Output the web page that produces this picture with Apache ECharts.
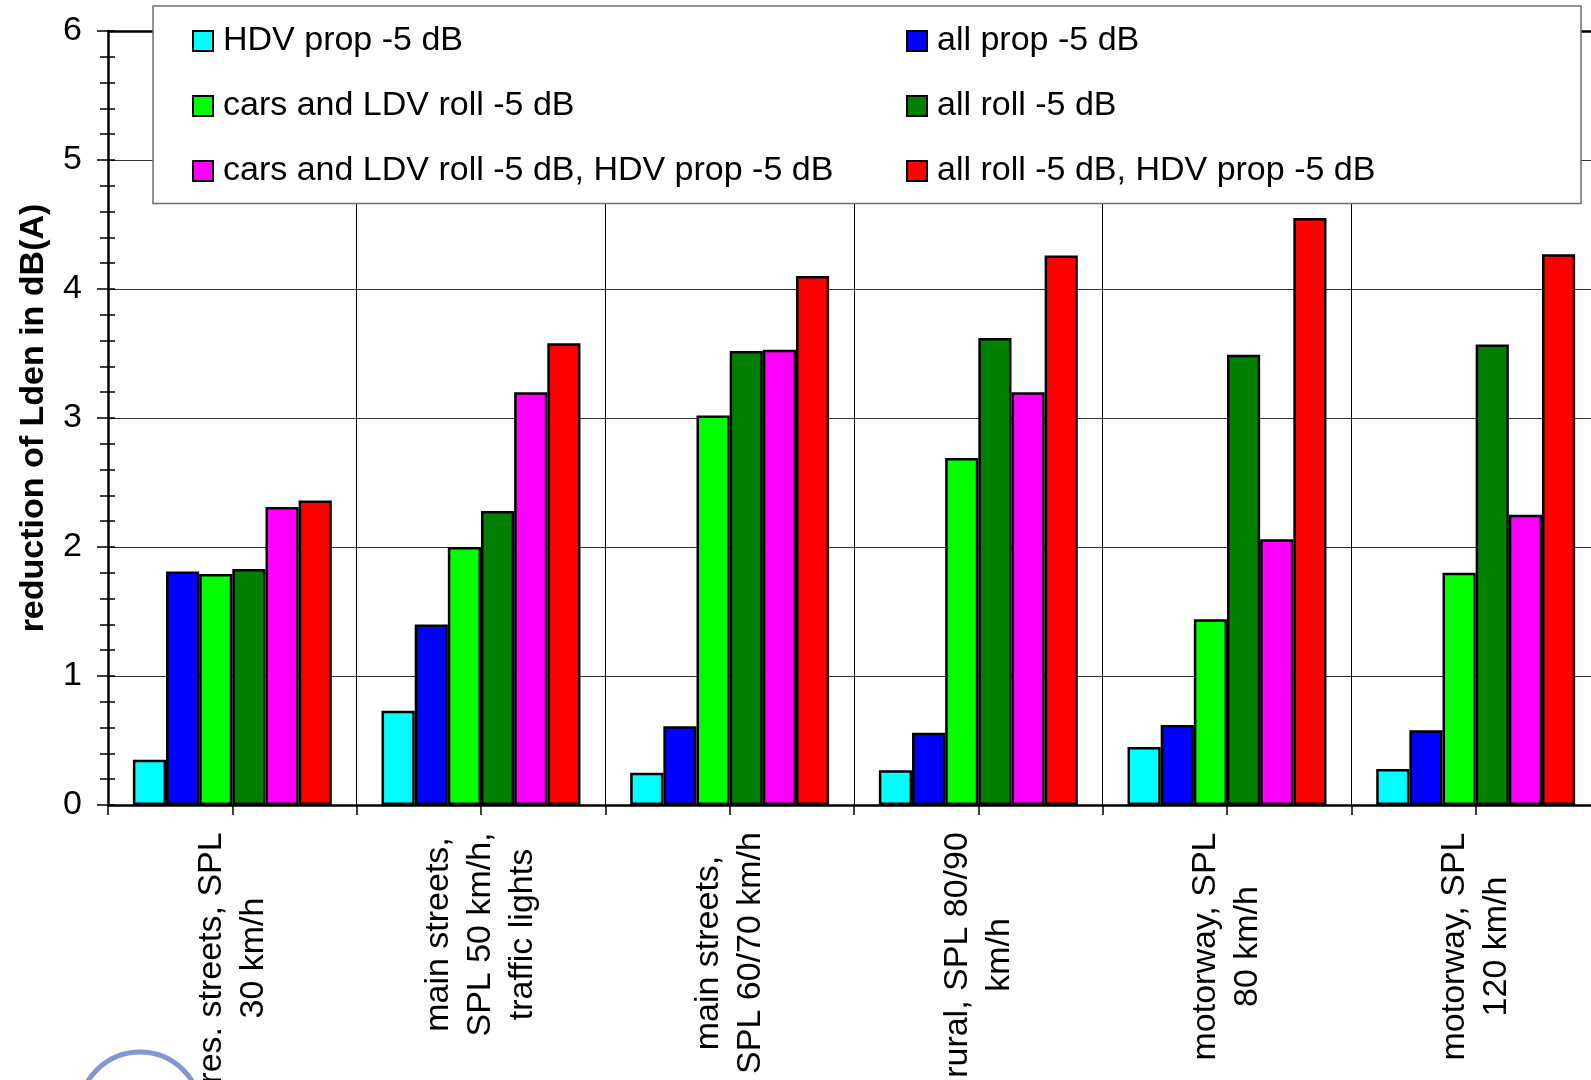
<!DOCTYPE html>
<html>
<head>
<meta charset="utf-8">
<script src="https://cdn.jsdelivr.net/npm/echarts@6/dist/echarts.min.js"></script>
<style>
  html, body { margin: 0; padding: 0; background: #fff; }
  #chart { width: 1591px; height: 1080px; }
</style>
</head>
<body>
<div id="chart"></div>
<script>
// Road categories (x axis)
const categories = [
  'res. streets, SPL\n30 km/h',
  'main streets,\nSPL 50 km/h,\ntraffic lights',
  'main streets,\nSPL 60/70 km/h',
  'rural, SPL 80/90\nkm/h',
  'motorway, SPL\n80 km/h',
  'motorway, SPL\n120 km/h'
];

// Noise reduction scenarios
const seriesNames = [
  'HDV prop -5 dB',
  'all prop -5 dB',
  'cars and LDV roll -5 dB',
  'all roll -5 dB',
  'cars and LDV roll -5 dB, HDV prop -5 dB',
  'all roll -5 dB, HDV prop -5 dB'
];

// Reduction of Lden in dB(A) per category
const hdvProp          = [0.35, 0.73, 0.25, 0.27, 0.45, 0.28];
const allProp          = [1.81, 1.40, 0.61, 0.56, 0.62, 0.58];
const carsRoll         = [1.79, 2.00, 3.02, 2.69, 1.44, 1.80];
const allRoll          = [1.83, 2.28, 3.52, 3.62, 3.49, 3.57];
const carsRollHdvProp  = [2.31, 3.20, 3.53, 3.20, 2.06, 2.25];
const allRollHdvProp   = [2.36, 3.58, 4.10, 4.26, 4.55, 4.27];

const yTicks = [0, 1, 2, 3, 4, 5, 6];

const seriesValues = [hdvProp, allProp, carsRoll, allRoll, carsRollHdvProp, allRollHdvProp];
const colors = ['#00ffff', '#0000ff', '#00ff00', '#008000', '#ff00ff', '#ff0000'];

const FONT = "'Liberation Sans', Arial, Helvetica, sans-serif";
const FS = 34;

// Category labels: lines centred on each other, block ending at the axis.
const measureCtx = document.createElement('canvas').getContext('2d');
measureCtx.font = FS + 'px "Liberation Sans", Arial, sans-serif';
const labelRich = {};
categories.forEach(function (c, i) {
  const w = Math.max.apply(null, c.split('\n').map(function (s) { return measureCtx.measureText(s).width; }));
  labelRich['c' + i] = {
    width: Math.ceil(w) + 2,
    align: 'center',
    fontSize: FS,
    fontFamily: FONT,
    color: '#000',
    lineHeight: 42
  };
});

const chart = echarts.init(document.getElementById('chart'), null, { renderer: 'canvas' });

const legendCommon = {
  orient: 'vertical',
  selectedMode: false,
  itemWidth: 20,
  itemHeight: 20,
  itemGap: 0,
  icon: 'rect',
  itemStyle: { borderColor: '#000', borderWidth: 2 },
  textStyle: {
    fontSize: FS,
    fontFamily: FONT,
    color: '#000',
    lineHeight: 65,
    padding: [0, 0, 0, 5]
  }
};

const option = {
  animation: false,
  backgroundColor: '#fff',
  grid: {
    left: 108,
    right: -9,
    top: 31,
    bottom: 275,
    containLabel: false,
    outerBoundsMode: 'none'
  },
  legend: [
    Object.assign({}, legendCommon, {
      data: [seriesNames[0], seriesNames[2], seriesNames[4]],
      left: 153,
      top: 6,
      padding: [2.5, 738, 0, 39],
      backgroundColor: '#fff',
      borderColor: '#6f6f6f',
      borderWidth: 1.5,
      z: 4,
      textStyle: Object.assign({}, legendCommon.textStyle, { width: 620 })
    }),
    Object.assign({}, legendCommon, {
      data: [seriesNames[1], seriesNames[3], seriesNames[5]],
      left: 906,
      top: 8.5,
      padding: 0,
      z: 5
    })
  ],
  xAxis: [
    {
      type: 'category',
      data: categories,
      position: 'bottom',
      axisLine: { show: true, onZero: false, lineStyle: { color: '#000', width: 2.5 } },
      axisTick: { show: true, length: 10, interval: 0, lineStyle: { color: '#000', width: 1.5 } },
      axisLabel: {
        interval: 0,
        rotate: 90,
        margin: 26,
        fontSize: FS,
        fontFamily: FONT,
        color: '#000',
        formatter: function (value, index) {
          return value.split('\n').map(function (s) { return '{c' + index + '|' + s + '}'; }).join('\n');
        },
        rich: labelRich
      },
      splitLine: { show: true, interval: 0, lineStyle: { color: '#000', width: 1 } }
    },
    {
      // ticks at category centres
      type: 'category',
      data: categories,
      position: 'bottom',
      axisLine: { show: false, onZero: false },
      axisTick: { show: true, alignWithLabel: true, interval: 0, length: 10, lineStyle: { color: '#000', width: 1.5 } },
      axisLabel: { show: false },
      splitLine: { show: false }
    },
    {
      // top frame line
      type: 'category',
      data: categories,
      position: 'top',
      axisLine: { show: true, onZero: false, lineStyle: { color: '#000', width: 2.5 } },
      axisTick: { show: false },
      axisLabel: { show: false },
      splitLine: { show: false }
    }
  ],
  yAxis: [
    {
      type: 'value',
      min: yTicks[0],
      max: yTicks[yTicks.length - 1],
      interval: 1,
      position: 'left',
      name: 'reduction of Lden in dB(A)',
      nameLocation: 'middle',
      nameRotate: 90,
      nameGap: 57,
      nameTextStyle: { fontSize: FS, fontWeight: 'bold', color: '#000', fontFamily: FONT, lineHeight: 34 },
      axisLine: { show: true, lineStyle: { color: '#000', width: 2.5 } },
      axisTick: { show: true, length: 11, lineStyle: { color: '#000', width: 1.5 } },
      minorTick: { show: true, splitNumber: 5, length: 8, lineStyle: { color: '#000', width: 1.5 } },
      axisLabel: { margin: 26, fontSize: FS, fontFamily: FONT, color: '#000' },
      splitLine: { show: true, lineStyle: { color: '#333', width: 1 } },
      minorSplitLine: { show: false }
    },
    {
      // inner half of the crossing ticks
      type: 'value',
      min: yTicks[0],
      max: yTicks[yTicks.length - 1],
      interval: 1,
      position: 'left',
      offset: 0,
      axisLine: { show: false },
      axisTick: { show: true, inside: true, length: 7, lineStyle: { color: '#000', width: 1.5 } },
      minorTick: { show: true, splitNumber: 5, length: 7, lineStyle: { color: '#000', width: 1.5 } },
      axisLabel: { show: false },
      splitLine: { show: false }
    }
  ],
  series: seriesNames.map(function (name, i) {
    return {
      name: name,
      type: 'bar',
      xAxisIndex: 0,
      yAxisIndex: 0,
      data: seriesValues[i],
      barGap: '0%',
      barCategoryGap: '20%',
      itemStyle: { color: colors[i], borderColor: '#000', borderWidth: 2.5 },
      emphasis: { disabled: true }
    };
  }),
  graphic: [
    {
      // partial logo ring in the lower-left corner
      type: 'circle',
      z: -1,
      silent: true,
      shape: { cx: 140, cy: 1113, r: 61 },
      style: { fill: 'none', stroke: '#6f82cc', lineWidth: 5, opacity: 0.85 }
    }
  ]
};

chart.setOption(option);
</script>
</body>
</html>
